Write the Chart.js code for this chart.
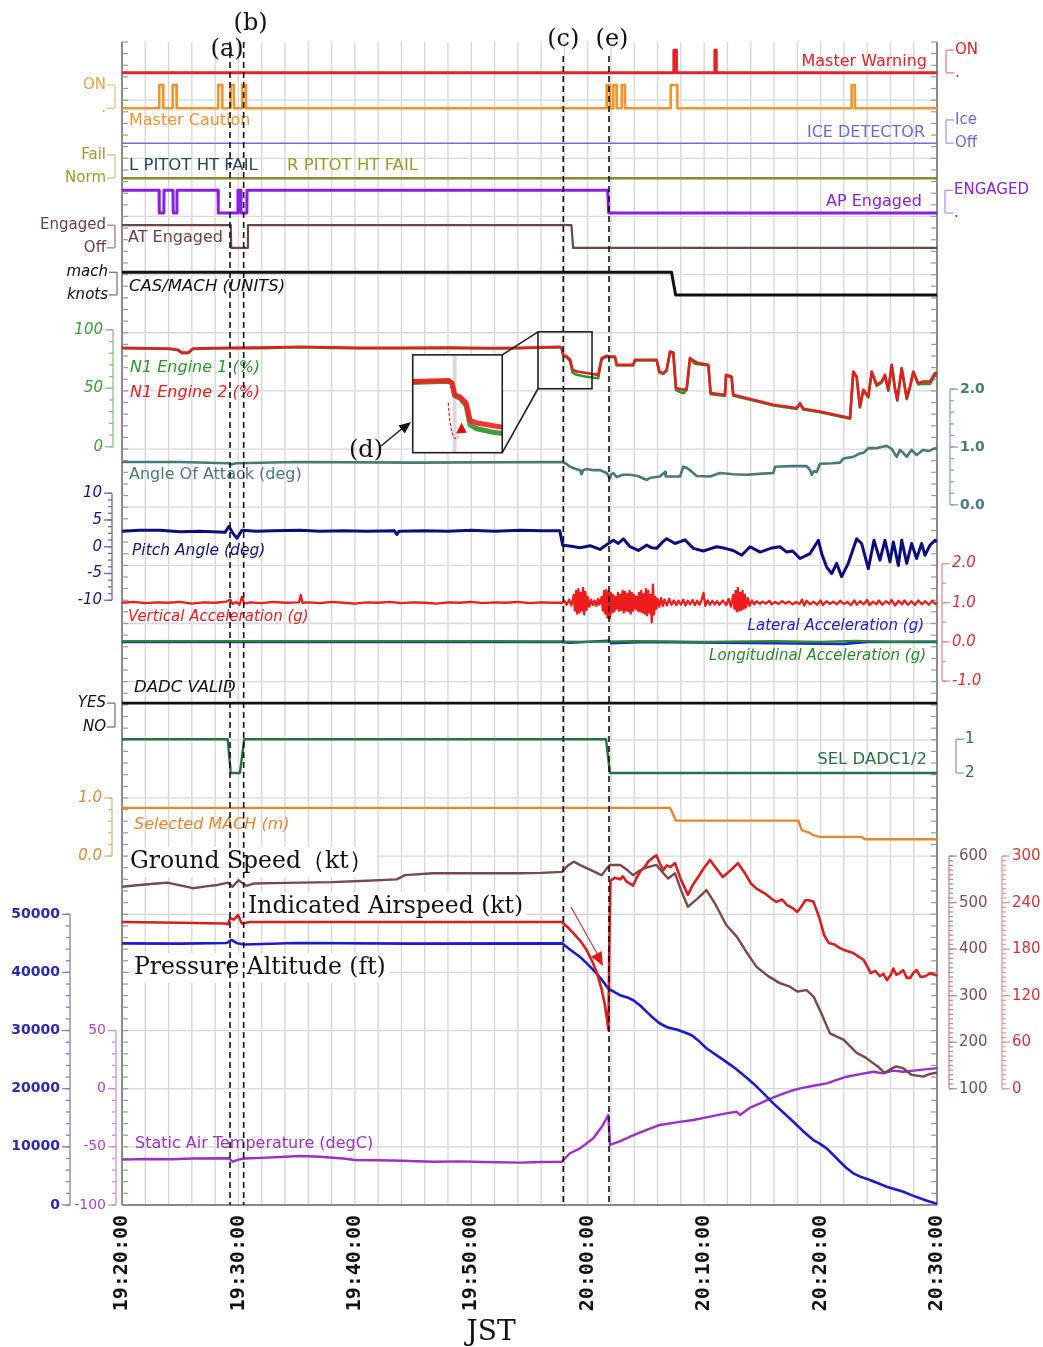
<!DOCTYPE html>
<html>
<head>
<meta charset="UTF-8">
<title>FDR traces</title>
<script src="https://cdn.jsdelivr.net/npm/chart.js"></script>
<style>
body { margin: 0; background: #fff; }
#wrap { width: 1043px; height: 1347px; }
</style>
</head>
<body>
<div id="wrap"><canvas id="fdr" width="1043" height="1347"></canvas></div>
<script>
// time is minutes after 19:20:00 JST
const timeTicks = [0, 10, 20, 30, 40, 50, 60, 70];
const timeLabels = ['19:20:00', '19:30:00', '19:40:00', '19:50:00', '20:00:00', '20:10:00', '20:20:00', '20:30:00'];
const eventTimes = [9.28, 10.45, 37.9, 41.83];
const eventNames = ['(a)', '(b)', '(c)', '(e)'];

// discrete signals [t, state]
const masterWarning = [[0,0],[47.38,0],[47.4,1],[47.6,1],[47.62,0],[50.9,0],[50.92,1],[51.02,1],[51.04,0],[70,0]];
const masterCaution = [[0,0],[3.18,0],[3.2,1],[3.53,1],[3.55,0],[4.33,0],[4.35,1],[4.68,1],[4.7,0],[8.25,0],[8.27,1],[8.6,1],[8.62,0],
  [9.31,0],[9.33,1],[9.6,1],[9.62,0],[10.31,0],[10.33,1],[10.63,1],[10.65,0],[41.61,0],[41.63,1],[41.89,1],[41.91,0],
  [42.18,0],[42.2,1],[42.47,1],[42.49,0],[42.9,0],[42.92,1],[43.18,1],[43.2,0],[47.11,0],[47.13,1],[47.68,1],[47.7,0],
  [62.65,0],[62.67,1],[62.94,1],[62.96,0],[70,0]];
const iceDetector = [[0,0],[70,0]];
const lPitotFail = [[0,0],[70,0]];
const rPitotFail = [[0,0],[70,0]];
const apEngaged = [[0,1],[3.18,1],[3.2,0],[3.59,0],[3.61,1],[4.38,1],[4.4,0],[4.7,0],[4.72,1],[8.25,1],[8.27,0],[9.94,0],[9.96,1],
  [10.2,1],[10.22,0],[10.72,0],[10.74,1],[41.72,1],[41.8,0],[70,0]];
const atEngaged = [[0,1],[9.34,1],[9.38,0],[10.78,0],[10.82,1],[38.6,1],[38.75,0],[70,0]];
const casMachUnits = [[0,1],[47.2,1],[47.55,0],[70,0]];
const dadcValid = [[0,1],[70,1]];
const selDadc = [[0,1],[9.08,1],[9.34,2],[10.13,2],[10.5,1],[41.57,1],[41.91,2],[70,2]];

// N1 (%)
const n1Eng2 = [[0,84.6],[2,84.3],[4.1,84],[4.8,83],[5.15,80.5],[5.67,80.5],[6.1,84],[8,84.5],[9.28,84.6],[12,84.8],[15.3,85.5],
  [18,85],[20,84.6],[23.9,84.6],[28,84.8],[32,84.5],[34.2,84.6],[37.6,85.5],[37.77,84.3],[37.9,78.6],[38.2,77.2],[38.5,74.4],
  [38.7,65.8],[39.05,64.4],[39.9,63],[40.9,61.5],[41.2,75.8],[41.63,77.8],[41.85,77.2],[42.34,77.2],[42.49,70.1],[43.9,70.1],
  [44.06,74.4],[45.92,74.4],[46.15,64.4],[46.49,63],[46.78,65.8],[47.07,81.5],[47.35,80.6],[47.58,50.2],[48.21,48.7],[48.5,50.2],
  [48.78,75.8],[49.21,72.9],[49.5,71.5],[50.36,70.1],[50.56,45.9],[51.79,44.4],[51.88,61.5],[52.36,60.1],[52.5,44.4],[54.22,40.2],
  [55.94,35.9],[57.95,33.1],[58.23,37.3],[58.52,32.5],[59.95,30.2],[62.53,24.5],[62.81,64.4],[63.1,60.1],[63.38,34.4],[63.67,48.7],
  [64.1,43],[64.39,64.4],[64.82,53],[65.25,55.8],[65.53,61.5],[65.82,48.7],[66.11,70.1],[66.39,50.2],[66.59,40.2],[66.97,67.3],
  [67.4,41.6],[67.68,51.5],[67.96,64.4],[68.39,54.4],[68.82,55.8],[69.4,55.8],[69.83,63],[70,63]];
const n1Eng1 = [[0,84.2],[2,84],[4.1,83.6],[4.8,82.6],[5.15,80],[5.67,80],[6.1,83.6],[8,84.1],[9.28,84.2],[12,84.4],[15.3,85.1],
  [18,84.6],[20,84.2],[23.9,84.2],[28,84.4],[32,84.1],[34.2,84.2],[37.6,85.1],[37.77,84],[37.9,78],[38.2,76.5],[38.5,73],
  [38.7,63.5],[39.05,61.5],[39.9,59.8],[40.9,58.6],[41.2,75],[41.63,77],[41.85,76.6],[42.34,76.6],[42.49,69.5],[43.9,69.5],
  [44.06,73.8],[45.92,73.8],[46.15,63.6],[46.49,62.2],[46.78,65],[47.07,81],[47.35,80],[47.58,48.5],[48.21,45.8],[48.5,48.5],
  [48.78,75.2],[49.21,71],[49.5,70.6],[50.36,69.5],[50.56,45],[51.79,43.5],[51.88,60.8],[52.36,59.4],[52.5,43.6],[54.22,39.5],
  [55.94,35.2],[57.95,32.4],[58.23,36.5],[58.52,31.8],[59.95,29.6],[62.53,24],[62.81,63.6],[63.1,59.4],[63.38,33.6],[63.67,48],
  [64.1,42.2],[64.39,63.6],[64.82,52],[65.25,54.8],[65.53,60.6],[65.82,47.8],[66.11,69.2],[66.39,49.2],[66.59,39.4],[66.97,66.4],
  [67.4,40.8],[67.68,50.6],[67.96,63.5],[68.39,53.2],[68.82,54],[69.4,53.8],[69.83,61],[70,61]];

// angle of attack (deg)
const aoa = [[0,0.74],[5,0.74],[9.1,0.72],[9.4,0.7],[9.8,0.72],[15,0.74],[25,0.73],[37.77,0.74],[38.1,0.72],[38.48,0.66],[39.0,0.62],
  [39.34,0.6],[39.48,0.53],[39.6,0.6],[39.91,0.62],[40.5,0.6],[41.05,0.6],[41.63,0.55],[41.91,0.46],[42.0,0.52],[42.2,0.55],
  [42.5,0.48],[43.0,0.52],[43.63,0.52],[44.3,0.5],[45.07,0.43],[45.4,0.47],[46.2,0.49],[46.64,0.57],[46.7,0.49],[47.93,0.49],
  [48.21,0.66],[48.5,0.64],[48.78,0.6],[49.36,0.5],[50.5,0.49],[51.36,0.55],[52.5,0.53],[53.65,0.52],[55.0,0.54],[55.94,0.55],
  [56.09,0.66],[57.5,0.67],[58.81,0.67],[59.1,0.6],[59.24,0.52],[59.4,0.58],[59.67,0.57],[59.95,0.71],[61.0,0.72],[61.67,0.73],
  [61.95,0.8],[62.81,0.83],[63.38,0.89],[63.7,0.9],[64.1,0.98],[64.82,0.98],[65.2,1.0],[65.68,1.02],[66.1,0.97],[66.54,0.83],
  [66.82,0.95],[67.1,0.9],[67.4,0.83],[67.82,0.95],[68.25,0.86],[68.6,0.92],[68.82,0.95],[69.3,0.93],[69.83,0.98],[70,0.97]];

// pitch angle (deg)
const pitch = [[0,2.9],[1.5,3.1],[3.26,3.1],[5,2.8],[6.7,2.9],[8.85,2.7],[9.19,3.8],[9.53,2.5],[9.88,1.6],[10.31,3.1],[11.5,2.9],
  [13,3.0],[15.3,3.1],[17,2.9],[19,3.0],[21,2.9],[23.4,3.0],[23.6,2.3],[23.8,2.9],[26,3.0],[28,2.9],[30,3.1],[32,2.9],[34.2,3.1],
  [36,3.0],[37.6,3.0],[37.85,0.3],[38.6,0.1],[39.34,-0.2],[40.2,0.2],[41.05,-0.5],[41.77,0.6],[42.2,1.2],[42.63,0.6],[43.06,1.5],
  [43.63,0],[44.35,-0.7],[45.07,0.3],[45.5,-0.2],[45.92,-0.3],[46.4,0.8],[46.78,1.5],[47.5,0.6],[48.0,1.0],[48.35,1.3],[49.07,-0.3],
  [49.93,-0.8],[50.5,-0.4],[51.07,0],[51.8,-0.3],[52.5,-0.7],[53.22,-1.6],[53.94,0],[54.8,-1],[55.7,-0.3],[56.52,0],[57.09,-1],
  [57.6,-0.8],[58.23,-2.2],[59.09,-1.3],[59.81,1.2],[60.1,-1.3],[60.52,-3.8],[60.96,-5],[61.38,-3.1],[61.81,-5.6],[62.38,-3.1],
  [63.1,1.5],[63.53,0.6],[64.1,-4.1],[64.59,1.2],[65.1,-2.5],[65.53,1.2],[65.96,-2.8],[66.25,0.9],[66.68,-3.5],[66.97,1.2],
  [67.4,-3.1],[67.82,0.6],[68.25,-2.2],[68.68,0.6],[68.97,-1.6],[69.4,0.3],[69.83,1.2],[70,1.0]];

// accelerations (g)
const vertAcc = [[0,1.0],[1,1.02],[2,0.99],[3,1.01],[4,1.0],[5,1.02],[6,0.98],[7,1.01],[8,1.0],[9,1.03],[9.3,1.08],[9.5,0.97],
  [9.8,1.02],[10.1,0.95],[10.3,1.15],[10.5,0.98],[11,1.01],[12,0.99],[13,1.02],[14,1.0],[15.2,1.01],[15.35,1.2],[15.5,1.0],[16,1.01],
  [17,0.99],[18,1.02],[19,1.0],[20,0.98],[21,1.01],[22,1.0],[23,1.02],[24,0.99],[25,1.01],[26,1.0],[27,0.98],[28,1.01],[29,1.0],
  [30,1.02],[31,0.99],[32,1.01],[33,1.0],[34,1.02],[35,0.99],[36,1.01],[37,1.0],[37.8,1.0],
  [38.0,1.05],[38.2,0.95],[38.4,1.08],[38.6,0.93],[38.8,1.2],[38.9,0.8],[39.0,1.3],[39.1,0.72],[39.2,1.35],[39.3,0.75],[39.4,1.25],
  [39.5,0.8],[39.6,1.38],[39.7,0.7],[39.8,1.28],[39.9,0.82],[40.0,1.15],[40.15,0.9],[40.3,1.08],[40.45,0.94],[40.6,1.05],[40.75,0.92],
  [40.9,1.1],[41.0,0.95],[41.2,1.15],[41.3,0.8],[41.4,1.3],[41.5,0.72],[41.6,1.32],[41.7,0.62],[41.8,1.28],[41.9,0.6],[42.0,1.25],
  [42.1,0.75],[42.2,1.2],[42.3,0.78],[42.4,1.15],[42.5,0.85],[42.6,1.25],[42.7,0.8],[42.8,1.2],[42.9,0.82],[43.0,1.3],[43.1,0.75],
  [43.2,1.28],[43.3,0.8],[43.4,1.22],[43.5,0.78],[43.6,1.3],[43.7,0.72],[43.8,1.25],[43.9,0.8],[44.0,1.2],[44.1,0.85],[44.2,1.15],
  [44.3,0.8],[44.4,1.25],[44.5,0.78],[44.6,1.3],[44.7,0.75],[44.8,1.22],[44.9,0.72],[45.0,1.35],[45.1,0.68],[45.2,1.3],[45.3,0.75],
  [45.4,1.2],[45.5,0.5],[45.6,1.46],[45.7,0.7],[45.8,1.15],[45.9,0.85],[46.0,1.1],[46.15,0.9],[46.3,1.12],[46.45,0.92],[46.6,1.08],
  [46.8,0.93],[47.0,1.1],[47.2,0.95],[47.4,1.06],[47.6,0.94],[47.8,1.05],[48.0,0.95],[48.2,1.08],[48.4,0.93],[48.6,1.05],[48.8,0.96],
  [49.0,1.07],[49.2,0.94],[49.4,1.05],[49.6,0.95],[49.8,1.08],[49.95,1.25],[50.1,0.92],[50.3,1.06],[50.5,0.95],[50.7,1.05],[50.9,0.96],
  [51.1,1.04],[51.3,0.95],[51.6,1.06],[51.9,0.94],[52.1,1.1],[52.3,0.9],[52.5,1.2],[52.6,0.85],[52.7,1.3],[52.8,0.78],[52.9,1.38],
  [53.0,0.8],[53.1,1.25],[53.2,0.82],[53.3,1.3],[53.4,0.85],[53.5,1.2],[53.6,0.88],[53.75,1.12],[53.9,0.92],[54.1,1.06],[54.3,0.96],
  [54.5,1.04],[54.8,0.97],[55.0,1.03],[55.3,0.98],[55.6,1.05],[55.8,0.96],[56.1,1.02],[56.4,0.97],[56.7,1.04],[57.0,0.98],[57.3,1.03],
  [57.6,0.96],[57.9,1.02],[58.2,0.97],[58.4,1.08],[58.6,0.93],[58.8,1.05],[59.1,0.96],[59.4,1.03],[59.7,0.95],[60.0,1.06],[60.2,0.94],
  [60.5,1.04],[60.8,0.97],[61.1,1.03],[61.4,0.96],[61.7,1.05],[62.0,0.97],[62.3,1.02],[62.6,0.94],[62.9,1.06],[63.1,0.95],[63.4,1.04],
  [63.7,0.96],[64.0,1.07],[64.2,0.94],[64.5,1.03],[64.8,0.96],[65.0,1.06],[65.3,0.95],[65.6,1.04],[65.9,0.97],[66.1,1.07],[66.4,0.93],
  [66.7,1.05],[67.0,0.96],[67.2,1.06],[67.5,0.95],[67.8,1.04],[68.1,0.94],[68.4,1.06],[68.7,0.96],[69.0,1.04],[69.3,0.95],[69.6,1.05],
  [69.85,0.97],[70,1.0]];
const latAcc = [[0,0],[37.8,0],[38.5,-0.02],[41.8,0.03],[42,-0.03],[45,0],[58,-0.04],[62,-0.05],[64,0],[70,0]];
const longAcc = [[0,0.02],[30,0.02],[37.8,0.01],[40,0],[44,0.02],[50,0],[56,0.02],[60,0],[63,0.03],[66,0],[70,0.01]];

// selected mach
const selMach = [[0,0.83],[47.07,0.83],[47.58,0.61],[58.09,0.61],[58.38,0.45],[58.52,0.44],[58.95,0.41],[59.38,0.36],[59.95,0.33],
  [63.53,0.33],[63.82,0.29],[70,0.29]];

// ground speed (kt), indicated airspeed (kt)
const groundSpeed = [[0,534],[1.5,538],[3,541],[3.9,543],[5,537],[6.1,531],[7.2,535],[8.2,538],[9.1,543],[9.5,534],[10.0,548],
  [10.7,536],[11.3,541],[13,542],[15.3,543],[18,544],[21,547],[23.6,550],[24.3,559],[26.7,563],[30,563],[34.2,563],[36,564],
  [37.8,566],[38.3,580],[38.8,588],[39.4,580],[39.9,574],[40.6,566],[41.2,559],[41.6,572],[41.9,581],[42.8,581],[43.4,570],
  [43.9,559],[44.4,568],[44.9,574],[45.4,578],[45.9,581],[46.5,563],[46.9,552],[47.5,563],[48.0,528],[48.6,491],[49.4,508],
  [50.2,527],[51.0,495],[51.9,452],[52.8,427],[53.6,395],[54.5,362],[55.5,342],[56.5,327],[57.3,320],[58.0,309],[58.8,312],
  [59.4,298],[60.1,260],[60.8,219],[61.4,212],[62.0,205],[62.5,192],[63.1,177],[63.8,168],[64.5,155],[65.0,146],[65.5,134],
  [66.0,142],[66.5,148],[67.1,144],[67.5,136],[67.8,130],[68.3,128],[68.8,126],[69.3,131],[69.8,134],[70,133]];
const airspeed = [[0,215],[5,214],[8.8,213],[9.1,212],[9.3,220],[9.6,218],[9.96,224],[10.3,213],[11,215],[20,215],[30,215],
  [37.77,215],[38.3,208],[38.8,200],[39.4,190],[39.9,179],[40.4,164],[40.8,149],[41.2,128],[41.5,106],[41.78,76],[41.85,180],
  [41.95,268],[42.3,272],[42.8,270],[43.0,274],[43.35,267],[43.9,262],[44.2,272],[44.5,280],[44.9,286],[45.2,293],[45.6,298],
  [45.9,301],[46.2,290],[46.5,282],[46.8,288],[47.1,286],[47.5,291],[48.0,270],[48.6,250],[49.0,262],[49.4,271],[50.0,285],
  [50.5,295],[51.0,285],[51.6,273],[52.3,282],[52.9,291],[53.5,278],[54.0,265],[54.5,258],[55.2,252],[55.8,245],[56.2,241],
  [56.7,244],[57.1,237],[57.6,233],[58.0,228],[58.4,236],[58.7,243],[59.0,243],[59.4,241],[59.9,220],[60.3,198],[60.7,188],
  [61.2,186],[61.6,182],[62.0,179],[62.4,177],[62.8,175],[63.2,171],[63.7,166],[64.0,158],[64.3,149],[64.7,152],[65.1,145],
  [65.4,148],[65.7,140],[66.0,146],[66.25,155],[66.5,147],[66.8,149],[67.1,153],[67.4,143],[67.7,143],[68.0,150],[68.25,153],
  [68.6,144],[69.0,145],[69.4,149],[69.8,147],[70,146]];

// pressure altitude (ft), static air temperature (degC)
const altitude = [[0,45000],[5,44950],[9.0,45050],[9.4,45600],[9.9,45000],[10.5,44800],[15,45050],[25,44950],[37.8,45000],
  [38.5,43900],[39.34,42660],[40.1,41200],[40.77,39800],[41.3,38500],[41.77,37230],[42.3,36600],[42.77,36080],[43.4,35700],
  [43.92,35220],[44.5,34300],[45.07,33210],[45.6,32200],[46.2,31210],[46.9,30500],[47.64,30180],[48.3,29700],[48.93,29200],
  [49.6,28100],[50.22,26920],[51.4,25300],[52.5,23760],[53.4,22300],[54.22,20910],[55.1,19200],[55.94,17470],[56.8,15900],
  [57.66,14310],[58.5,12700],[59.38,11170],[59.9,10600],[60.52,9740],[61.1,8600],[61.67,7440],[62.2,6400],[62.81,5450],
  [63.5,4800],[64.24,4300],[65.0,3700],[65.68,3140],[66.4,2700],[67.11,2280],[67.8,1700],[68.54,1150],[69.2,700],[69.83,290],[70,200]];
const airTemp = [[0,-61],[2,-60.5],[4.3,-60.7],[6,-60],[9.2,-59.8],[9.5,-62.8],[10.0,-61],[10.5,-60],[12,-59.5],[14,-58.5],
  [15.3,-57.9],[17,-58.5],[19,-60],[20,-61.3],[22,-61.5],[24,-62],[26.7,-62.8],[29,-62.5],[31,-63],[34.2,-63.6],[36,-63],
  [37.77,-62.8],[38.48,-55.5],[39.34,-51.3],[40.48,-42.6],[41.2,-33],[41.77,-22.6],[41.91,-48.4],[42.8,-45],[43.63,-41.3],
  [44.9,-36],[46.2,-31.2],[47.6,-29],[49.07,-26.9],[50.5,-24],[52.0,-21],[52.8,-19.8],[53.08,-22.6],[54.0,-16],[54.8,-12.6],
  [55.7,-8.5],[56.51,-5.4],[57.4,-2],[58.23,0.3],[59.4,2.5],[60.52,4.6],[61.4,7.5],[62.24,10.3],[63.4,12.5],[64.53,14.6],
  [65.39,13.2],[66.2,15.5],[67.11,14.6],[68.4,16],[69.83,17.5],[70,17.8]];

// axis tick values
const n1Ticks = [0, 50, 100];
const pitchTicks = [-10, -5, 0, 5, 10];
const machTicks = [0, 1];
const machTickLabels = ['0.0', '1.0'];
const aoaTicks = [0, 1, 2];
const aoaTickLabels = ['0.0', '1.0', '2.0'];
const accTicks = [-1, 0, 1, 2];
const accTickLabels = ['-1.0', '0.0', '1.0', '2.0'];
const gsTicks = [100, 200, 300, 400, 500, 600];
const iasTicks = [0, 60, 120, 180, 240, 300];
const altTicks = [0, 10000, 20000, 30000, 40000, 50000];
const satTicks = [-100, -50, 0, 50];

// each trace sits in its own band of the 20-division grid
function band(v0, g0, v1, g1) {
  const k = (v1 - v0) / (g1 - g0);
  const lo = v0 - g0 * k, hi = v0 + (20 - g0) * k;
  if (k < 0) return { type: 'linear', axis: 'y', display: false, min: hi, max: lo, reverse: true };
  return { type: 'linear', axis: 'y', display: false, min: lo, max: hi };
}
const scales = {
  x: { type: 'linear', display: false, min: 0, max: 70 },
  g: { type: 'linear', axis: 'y', display: false, min: 0, max: 20 },
  mw: band(0, 19.47, 1, 19.86),
  mc: band(0, 18.86, 1, 19.26),
  ice: band(0, 18.26, 1, 18.66),
  pitot: band(0, 17.66, 1, 18.06),
  ap: band(0, 17.06, 1, 17.45),
  at: band(0, 16.46, 1, 16.85),
  cas: band(0, 15.65, 1, 16.04),
  n1: band(0, 13.04, 100, 15.05),
  aoa: band(0, 12.04, 2, 14.03),
  pitch: band(-10, 10.40, 10, 12.24),
  acc: band(-1, 9.01, 2, 11.03),
  dadc: band(0, 8.22, 1, 8.63),
  sel: band(2, 7.43, 1, 8.01),
  smach: band(0, 6.0, 1, 7.0),
  gs: band(100, 2.0, 600, 6.0),
  ias: band(0, 2.0, 300, 6.0),
  alt: band(0, 0, 50000, 5),
  sat: band(-100, 0, 50, 3)
};

// earlier entries are painted on top
const traces = [
  ['Master Warning', masterWarning, 'mw', '#e3222b', 3],
  ['Master Caution', masterCaution, 'mc', '#f2942c', 2.6],
  ['ICE DETECTOR', iceDetector, 'ice', '#6f6fe0', 1.6],
  ['R PITOT HT FAIL', rPitotFail, 'pitot', '#8c8c24', 2.2],
  ['L PITOT HT FAIL', lPitotFail, 'pitot', '#1e4a4a', 2.2],
  ['AP Engaged', apEngaged, 'ap', '#8a1fe0', 3],
  ['AT Engaged', atEngaged, 'at', '#6e4545', 2.2],
  ['CAS/MACH (UNITS)', casMachUnits, 'cas', '#111111', 3],
  ['N1 Engine 2 (%)', n1Eng2, 'n1', '#e21e1e', 2.6],
  ['N1 Engine 1 (%)', n1Eng1, 'n1', '#2a962a', 2.6],
  ['Angle Of Attack (deg)', aoa, 'aoa', '#4a7878', 2.6],
  ['Pitch Angle (deg)', pitch, 'pitch', '#0c0c80', 3],
  ['Vertical Acceleration (g)', vertAcc, 'acc', '#ee1c1c', 2.3],
  ['Longitudinal Acceleration (g)', longAcc, 'acc', '#2a8a2a', 2.2],
  ['Lateral Acceleration (g)', latAcc, 'acc', '#1a2ad0', 2.6],
  ['DADC VALID', dadcValid, 'dadc', '#111111', 2.6],
  ['SEL DADC1/2', selDadc, 'sel', '#2a7044', 2.4],
  ['Selected MACH (m)', selMach, 'smach', '#e8862e', 2.4],
  ['Indicated Airspeed (kt)', airspeed, 'ias', '#d81e1e', 2.6],
  ['Ground Speed (kt)', groundSpeed, 'gs', '#7a4848', 2.4],
  ['Pressure Altitude (ft)', altitude, 'alt', '#1a1ad0', 2.6],
  ['Static Air Temperature (degC)', airTemp, 'sat', '#9a30c8', 2.4]
];

const datasets = traces.map(t => ({
  label: t[0],
  data: t[1].map(p => ({ x: p[0], y: p[1] })),
  yAxisID: t[2],
  borderColor: t[3],
  borderWidth: t[4],
  pointRadius: 0,
  fill: false,
  tension: 0,
  borderJoinStyle: 'round'
}));

function seg(ctx, x1, y1, x2, y2) {
  ctx.beginPath(); ctx.moveTo(x1, y1); ctx.lineTo(x2, y2); ctx.stroke();
}
function txt(ctx, s, x, y, align, color, font) {
  ctx.font = font; ctx.textAlign = align; ctx.textBaseline = 'middle';
  ctx.fillStyle = color; ctx.fillText(s, x, y);
}
function arrowHead(ctx, x1, y1, x2, y2, size, color) {
  const a = Math.atan2(y2 - y1, x2 - x1);
  ctx.fillStyle = color;
  ctx.beginPath();
  ctx.moveTo(x2, y2);
  ctx.lineTo(x2 - size * Math.cos(a - 0.4), y2 - size * Math.sin(a - 0.4));
  ctx.lineTo(x2 - size * Math.cos(a + 0.4), y2 - size * Math.sin(a + 0.4));
  ctx.closePath(); ctx.fill();
}

const SANS = '"DejaVu Sans", Verdana, sans-serif';
const SERIF = '"DejaVu Serif", "Liberation Serif", serif';

// trace names written inside the plot
const traceLabels = [
  ['Master Warning', 927, 62, 'right', '#e02028', '16px ' + SANS],
  ['Master Caution', 129, 121, 'left', '#f0922e', '16px ' + SANS],
  ['ICE DETECTOR', 925, 133, 'right', '#6a6ad6', '16px ' + SANS],
  ['L PITOT HT FAIL', 129, 166, 'left', '#1e4a4a', '16.5px ' + SANS],
  ['R PITOT HT FAIL', 287, 166, 'left', '#9a9a2a', '16.5px ' + SANS],
  ['AP Engaged', 922, 202, 'right', '#8a20d8', '16px ' + SANS],
  ['AT Engaged', 128, 238, 'left', '#6a4040', '16px ' + SANS],
  ['CAS/MACH (UNITS)', 129, 287, 'left', '#111', 'italic 16.5px ' + SANS],
  ['N1 Engine 1 (%)', 130, 368, 'left', '#2a962a', 'italic 16px ' + SANS],
  ['N1 Engine 2 (%)', 130, 393, 'left', '#e02020', 'italic 16px ' + SANS],
  ['Angle Of Attack (deg)', 129, 475, 'left', '#4a7878', '16px ' + SANS],
  ['Pitch Angle (deg)', 132, 551, 'left', '#10107a', 'italic 15.5px ' + SANS],
  ['Vertical Acceleration (g)', 128, 617, 'left', '#e02020', 'italic 15px ' + SANS],
  ['Lateral Acceleration (g)', 924, 626, 'right', '#2020c0', 'italic 15px ' + SANS],
  ['Longitudinal Acceleration (g)', 926, 656, 'right', '#2a8a2a', 'italic 15px ' + SANS],
  ['DADC VALID', 134, 688, 'left', '#111', 'italic 16.5px ' + SANS],
  ['SEL DADC1/2', 927, 760, 'right', '#2a7044', '16.5px ' + SANS],
  ['Selected MACH (m)', 134, 825, 'left', '#e8862e', 'italic 16px ' + SANS],
  ['Static Air Temperature (degC)', 135, 1144, 'left', '#a030c0', '16px ' + SANS]
];
const bigLabels = [
  ['Ground Speed\uff08kt\uff09', 130, 862],
  ['Indicated Airspeed (kt)', 248, 907],
  ['Pressure Altitude (ft)', 134, 968]
];
const BIG = '23.5px ' + SERIF;

// value axes drawn beside the plot
const numAxes = [
  { id: 'n1', side: 'left', x: 113, min: 0, max: 100, minor: 10, ticks: n1Ticks, color: '#3a9a3a', line: '#8abd8a', font: 'italic 15px ' + SANS },
  { id: 'pitch', side: 'left', x: 112, min: -10, max: 10, minor: 1.25, ticks: pitchTicks, color: '#15157a', line: '#6a6aa0', font: 'italic 15px ' + SANS },
  { id: 'smach', side: 'left', x: 112, min: 0, max: 1, minor: 0.2, ticks: machTicks, labels: machTickLabels, color: '#e08a3a', line: '#e8b080', font: 'italic 15px ' + SANS },
  { id: 'alt', side: 'left', x: 70, min: 0, max: 50000, minor: 2000, ticks: altTicks, color: '#2a2ab0', line: '#8080c0', font: 'bold 14px ' + SANS },
  { id: 'sat', side: 'left', x: 116, min: -100, max: 50, minor: 10, ticks: satTicks, color: '#b040c8', line: '#d090e0', font: '14px ' + SANS },
  { id: 'aoa', side: 'right', x: 950, min: 0, max: 2, minor: 0.2, ticks: aoaTicks, labels: aoaTickLabels, color: '#4a7a7a', line: '#8aa8a8', font: 'bold 14px ' + SANS },
  { id: 'acc', side: 'right', x: 942, min: -1, max: 2, minor: 0.5, ticks: accTicks, labels: accTickLabels, color: '#e03030', line: '#e89090', font: 'italic 15px ' + SANS },
  { id: 'gs', side: 'right', x: 949, min: 100, max: 600, minor: 10, ticks: gsTicks, color: '#7a5050', line: '#b09090', font: '15px ' + SANS },
  { id: 'ias', side: 'right', x: 1002, min: 0, max: 300, minor: 6, ticks: iasTicks, color: '#d03535', line: '#e89a9a', font: '15px ' + SANS }
];
const binAxes = [
  { id: 'mw', side: 'right', x: 946, on: 1, off: 0, onText: 'ON', offText: '.', color: '#e02020', line: '#e88080', font: '15px ' + SANS },
  { id: 'mc', side: 'left', x: 115, on: 1, off: 0, onText: 'ON', offText: '.', color: '#f0a040', line: '#f0c080', font: '15px ' + SANS },
  { id: 'ice', side: 'right', x: 946, on: 1, off: 0, onText: 'Ice', offText: 'Off', color: '#6a6ad6', line: '#a0a0e0', font: '15px ' + SANS },
  { id: 'pitot', side: 'left', x: 115, on: 1, off: 0, onText: 'Fail', offText: 'Norm', color: '#9a9a30', line: '#c8c890', font: '15px ' + SANS },
  { id: 'ap', side: 'right', x: 945, on: 1, off: 0, onText: 'ENGAGED', offText: '.', color: '#8a20d8', line: '#c090e8', font: '15px ' + SANS },
  { id: 'at', side: 'left', x: 115, on: 1, off: 0, onText: 'Engaged', offText: 'Off', color: '#6a4040', line: '#a08080', font: '15px ' + SANS },
  { id: 'cas', side: 'left', x: 117, on: 1, off: 0, onText: 'mach', offText: 'knots', color: '#111', line: '#777', font: 'italic 15px ' + SANS },
  { id: 'dadc', side: 'left', x: 115, on: 1, off: 0, onText: 'YES', offText: 'NO', color: '#111', line: '#777', font: 'italic 15px ' + SANS },
  { id: 'sel', side: 'right', x: 956, on: 1, off: 2, onText: '1', offText: '2', color: '#2a7044', line: '#80a890', font: '15px ' + SANS }
];

function drawNumAxis(ctx, sc, o) {
  const dir = o.side === 'left' ? -1 : 1;
  ctx.strokeStyle = o.line; ctx.lineWidth = 1.3;
  seg(ctx, o.x, sc.getPixelForValue(o.min), o.x, sc.getPixelForValue(o.max));
  for (let v = o.min; v <= o.max + 1e-6; v += o.minor) {
    const py = sc.getPixelForValue(v);
    seg(ctx, o.x, py, o.x + dir * 4, py);
  }
  o.ticks.forEach((v, i) => {
    const py = sc.getPixelForValue(v);
    ctx.strokeStyle = o.line;
    seg(ctx, o.x, py, o.x + dir * 8, py);
    txt(ctx, o.labels ? o.labels[i] : String(v), o.x + dir * 10, py, dir < 0 ? 'right' : 'left', o.color, o.font);
  });
}
function drawBinAxis(ctx, sc, o) {
  const dir = o.side === 'left' ? -1 : 1;
  const y1 = sc.getPixelForValue(o.on), y2 = sc.getPixelForValue(o.off);
  ctx.strokeStyle = o.line; ctx.lineWidth = 1.3;
  seg(ctx, o.x, y1, o.x, y2);
  seg(ctx, o.x, y1, o.x + dir * 8, y1);
  seg(ctx, o.x, y2, o.x + dir * 8, y2);
  const al = dir < 0 ? 'right' : 'left';
  txt(ctx, o.onText, o.x + dir * 9, y1, al, o.color, o.font);
  txt(ctx, o.offText, o.x + dir * 9, y2, al, o.color, o.font);
}

// zoomed inset of the N1 drop at (c)
const zoomWin = { t0: 35.73, t1: 40.37, lo: 49.6, hi: 98.3 };
const insetWin = { t0: 24.97, t1: 32.66, lo: -5.1, hi: 78.6 };

function drawInset(chart) {
  const ctx = chart.ctx, xs = chart.scales.x, ys = chart.scales.n1;
  const zx0 = xs.getPixelForValue(zoomWin.t0), zx1 = xs.getPixelForValue(zoomWin.t1);
  const zy0 = ys.getPixelForValue(zoomWin.hi), zy1 = ys.getPixelForValue(zoomWin.lo);
  const ix0 = xs.getPixelForValue(insetWin.t0), ix1 = xs.getPixelForValue(insetWin.t1);
  const iy0 = ys.getPixelForValue(insetWin.hi), iy1 = ys.getPixelForValue(insetWin.lo);
  const sx = (ix1 - ix0) / (zx1 - zx0), sy = (iy1 - iy0) / (zy1 - zy0);
  const iw = ix1 - ix0, ih = iy1 - iy0;
  ctx.save();
  ctx.fillStyle = '#fff';
  ctx.fillRect(ix0, iy0, iw, ih);
  ctx.beginPath(); ctx.rect(ix0, iy0, iw, ih); ctx.clip();
  // faint line of event (c)
  const cx = ix0 + (xs.getPixelForValue(eventTimes[2]) - zx0) * sx;
  ctx.strokeStyle = 'rgba(150,150,150,0.35)'; ctx.lineWidth = 4;
  seg(ctx, cx, iy0, cx, iy1);
  [[n1Eng1, 'rgba(40,150,40,0.9)'], [n1Eng2, 'rgba(245,30,30,0.9)']].forEach(pair => {
    ctx.strokeStyle = pair[1]; ctx.lineWidth = 5; ctx.lineJoin = 'round';
    ctx.beginPath();
    pair[0].forEach((p, i) => {
      const px = ix0 + (xs.getPixelForValue(p[0]) - zx0) * sx;
      const py = iy0 + (ys.getPixelForValue(p[1]) - zy0) * sy;
      if (i) ctx.lineTo(px, py); else ctx.moveTo(px, py);
    });
    ctx.stroke();
  });
  // red dashed hint and arrow inside the inset
  ctx.strokeStyle = '#d02020'; ctx.lineWidth = 1.2; ctx.setLineDash([3, 2]);
  ctx.beginPath();
  ctx.moveTo(ix0 + 0.397 * iw, iy0 + 0.49 * ih);
  ctx.quadraticCurveTo(ix0 + 0.43 * iw, iy0 + 0.95 * ih, ix0 + 0.51 * iw, iy0 + 0.83 * ih);
  ctx.stroke();
  ctx.setLineDash([]);
  ctx.fillStyle = '#e01010';
  ctx.beginPath();
  ctx.moveTo(ix0 + 0.547 * iw, iy0 + 0.695 * ih);
  ctx.lineTo(ix0 + 0.483 * iw, iy0 + 0.804 * ih);
  ctx.lineTo(ix0 + 0.603 * iw, iy0 + 0.797 * ih);
  ctx.closePath(); ctx.fill();
  ctx.restore();
  ctx.save();
  ctx.strokeStyle = '#222'; ctx.lineWidth = 1.6;
  ctx.strokeRect(ix0, iy0, iw, ih);
  ctx.strokeRect(zx0, zy0, zx1 - zx0, zy1 - zy0);
  seg(ctx, ix1, iy0, zx0, zy0);
  seg(ctx, ix1, iy1, zx0, zy1);
  // (d) pointer
  ctx.lineWidth = 1.6;
  seg(ctx, 381, 446, 404, 427);
  arrowHead(ctx, 381, 446, 411, 422, 13, '#111');
  txt(ctx, '(d)', 366, 451, 'center', '#111', '24px ' + SERIF);
  ctx.restore();
}

const gridPlugin = {
  id: 'fdrGrid',
  beforeDatasetsDraw(chart) {
    const { ctx, chartArea: a, scales } = chart;
    const xs = scales.x, gs = scales.g;
    ctx.save();
    ctx.strokeStyle = '#d5d5d5'; ctx.lineWidth = 1.3;
    for (let t = 2; t < 70; t += 2) {
      const px = xs.getPixelForValue(t);
      seg(ctx, px, a.top, px, a.bottom);
    }
    ctx.strokeStyle = '#d9d9d9';
    for (let k = 1; k < 20; k++) {
      const py = gs.getPixelForValue(k);
      seg(ctx, a.left, py, a.right, py);
    }
    // white boxes behind the serif titles
    ctx.font = BIG;
    bigLabels.forEach(b => {
      const w = ctx.measureText(b[0]).width;
      ctx.fillStyle = '#fff';
      ctx.fillRect(b[1] - 3, b[2] - 15, w + 6, 30);
    });
    // frame with small ticks
    ctx.strokeStyle = '#8a8a8a'; ctx.lineWidth = 2;
    seg(ctx, a.left, a.top, a.left, a.bottom);
    seg(ctx, a.right, a.top, a.right, a.bottom);
    seg(ctx, a.left, a.bottom, a.right, a.bottom);
    ctx.lineWidth = 1.2; ctx.strokeStyle = '#9a9a9a';
    for (let k = 0; k <= 100; k++) {
      const py = gs.getPixelForValue(k / 5);
      seg(ctx, a.left, py, a.left + 6, py);
      seg(ctx, a.right, py, a.right - 6, py);
    }
    ctx.restore();
  }
};

const decorPlugin = {
  id: 'fdrDecor',
  afterDatasetsDraw(chart) {
    const { ctx, chartArea: a, scales } = chart;
    const xs = scales.x;
    ctx.save();
    traceLabels.forEach(l => txt(ctx, l[0], l[1], l[2], l[3], l[4], l[5]));
    bigLabels.forEach(b => txt(ctx, b[0], b[1], b[2], 'left', '#111', BIG));
    numAxes.forEach(o => drawNumAxis(ctx, scales[o.id], o));
    binAxes.forEach(o => drawBinAxis(ctx, scales[o.id], o));

    // event markers
    const lblPos = [[-3, 50, a.top], [7, 24, a.top], [0, 40, 56], [3, 40, 56]];
    eventTimes.forEach((t, i) => {
      const px = xs.getPixelForValue(t);
      ctx.strokeStyle = '#111'; ctx.lineWidth = 1.6; ctx.setLineDash([6, 4]);
      seg(ctx, px, lblPos[i][2], px, a.bottom);
      ctx.setLineDash([]);
      txt(ctx, eventNames[i], px + lblPos[i][0], lblPos[i][1], 'center', '#111', '24px ' + SERIF);
    });

    drawInset(chart);

    // arrow along the airspeed drop
    ctx.strokeStyle = '#c03838'; ctx.lineWidth = 1.2;
    seg(ctx, 571, 907, 599, 957);
    arrowHead(ctx, 571, 907, 603, 966, 15, '#e01818');

    // time axis
    timeTicks.forEach((t, i) => {
      const px = xs.getPixelForValue(t);
      ctx.save();
      ctx.translate(px, a.bottom + 10);
      ctx.rotate(-Math.PI / 2);
      txt(ctx, timeLabels[i], 0, 0, 'right', '#111', 'bold 20px "DejaVu Sans Mono", monospace');
      ctx.restore();
    });
    txt(ctx, 'JST', xs.getPixelForValue(31.7), 1333, 'center', '#111', '28px ' + SERIF);
    ctx.restore();
  }
};

const chart = new Chart(document.getElementById('fdr'), {
  type: 'line',
  data: { datasets },
  options: {
    responsive: false,
    animation: false,
    devicePixelRatio: 1,
    layout: { padding: { left: 122, right: 106, top: 42, bottom: 142 } },
    plugins: { legend: { display: false }, tooltip: { enabled: false } },
    scales
  },
  plugins: [gridPlugin, decorPlugin]
});
</script>
</body>
</html>
